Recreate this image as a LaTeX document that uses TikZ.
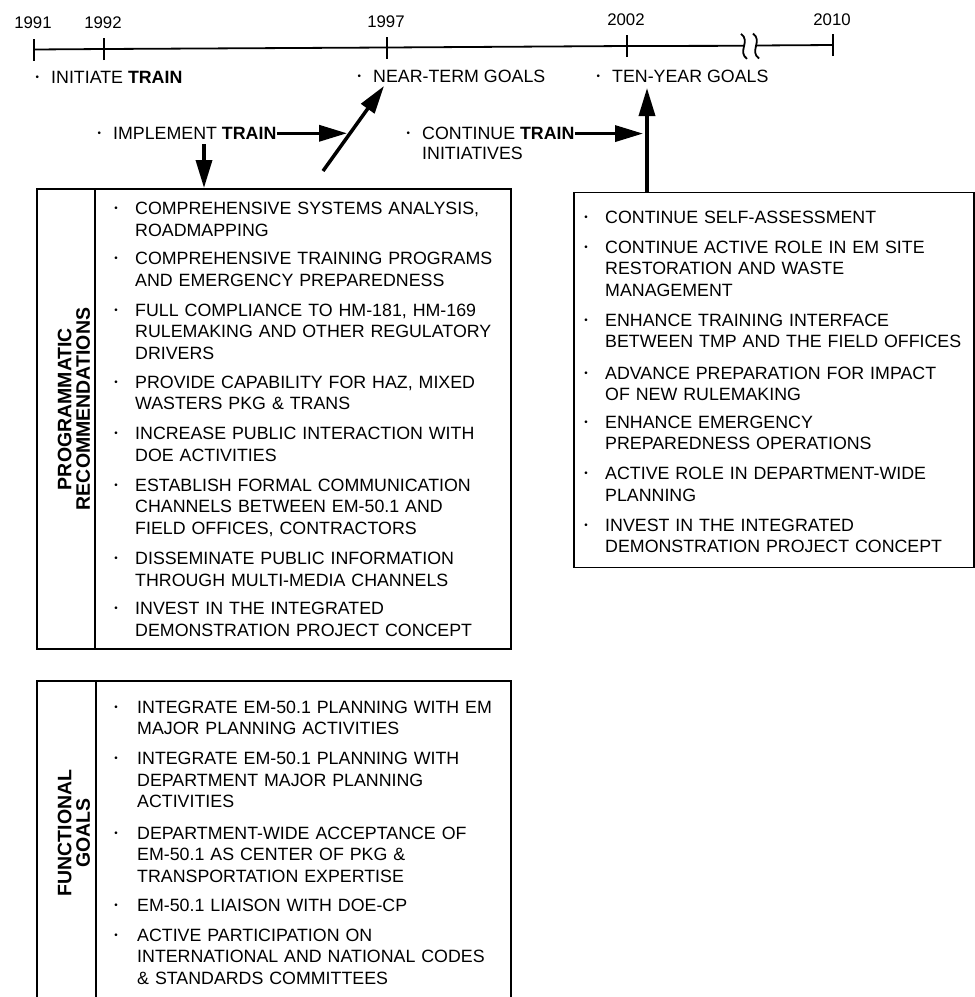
\documentclass[tikz,border=0pt]{standalone}
\usepackage{fontspec}
\setmainfont{Liberation Sans}
\usetikzlibrary{arrows.meta}
\newcommand\dotb{\raisebox{0.32ex}{\scalebox{0.55}{\textbullet}}}
\newcommand\bl{\makebox[14pt][l]{\hspace{-1.5pt}\dotb}}
\begin{document}
\begin{tikzpicture}[x=1pt,y=-1pt,
  font=\fontsize{17.8}{21.5}\selectfont,
  frame/.style={draw, line width=1.6pt, inner sep=0},
  item/.style={anchor=base west, inner sep=0, align=left, text width=#1},
  item/.default=380pt,
  bul/.style={anchor=base, inner sep=0},
  lab/.style={anchor=base west, inner sep=0},
  yr/.style={anchor=base, inner sep=0, font=\fontsize{16.8}{18}\selectfont},
  side/.style={rotate=90, align=center, inner sep=0, font=\fontsize{19.5}{18.5}\selectfont\bfseries},
  bigarrow/.style={line width=3.5pt, -{Triangle[length=28pt,width=16pt]}},
  tl/.style={line width=1.8pt},
]
\useasboundingbox (0,0) rectangle (975,997);

% ---------- timeline ----------
\coordinate (t91) at (34,49.5);
\coordinate (t92) at (104,49);
\coordinate (t97) at (387,47.5);
\coordinate (t02) at (627,46);
\coordinate (b1) at (744,45.8);
\coordinate (b2) at (756,45.5);
\coordinate (t10) at (833,45);
\draw[tl] (t91) -- (t92) -- (t97) -- (t02) -- (b1);
\draw[tl] (b2) -- (t10);
\foreach \t in {t91,t92,t97,t02,t10}
  \draw[tl] ([yshift=-11pt]\t) -- ([yshift=11pt]\t);
\draw[tl] ([shift={(3pt,-13pt)}]b1) .. controls ([shift={(-7pt,-6pt)}]b1) and ([shift={(7pt,5pt)}]b1) .. ([shift={(-3pt,12pt)}]b1);
\draw[tl] ([shift={(3pt,-13pt)}]b2) .. controls ([shift={(-7pt,-6pt)}]b2) and ([shift={(7pt,5pt)}]b2) .. ([shift={(-3pt,12pt)}]b2);

\node[yr] (y91) at (33,28) {1991};
\node[yr] (y92) at (103,28) {1992};
\node[yr] (y97) at (386,27) {1997};
\node[yr] (y02) at (626,25.5) {2002};
\node[yr] (y10) at (832,25.5) {2010};

% ---------- milestone labels ----------
\node[lab] (init) at (37,83.4) {\bl INITIATE \textbf{TRAIN}};
\node[lab] (near) at (359,82.4) {\bl NEAR-TERM GOALS};
\node[lab] (ten) at (598,82.4) {\bl TEN-YEAR GOALS};
\node[lab] (impl) at (99,139.4) {\bl IMPLEMENT \textbf{TRAIN}};
\node[lab] (cont) at (408,139.7) {\bl CONTINUE \textbf{TRAIN}};
\node[lab] (cont2) at (422,159.7) {INITIATIVES};

% ---------- boxes ----------
\node[frame, anchor=north west, minimum width=474pt, minimum height=460pt] (pbox) at (36,188) {};
\draw[frame] (95,188) -- (95,648);
\node[frame, anchor=north west, minimum width=400pt, minimum height=375pt] (rbox) at (573,191.7) {};
\draw[frame] (37,1002) -- (37,681) -- (511,681) -- (511,1002);
\draw[frame] (96,681) -- (96,1002);

\node[side] (plab) at (74,409) {PROGRAMMATIC\\RECOMMENDATIONS};
\node[side] (flab) at (74,833) {FUNCTIONAL\\GOALS};

% ---------- arrows ----------
\coordinate (i1) at (347,133);
\draw[bigarrow] (impl.east) -- (impl.east -| i1);
\coordinate (d0) at (323,171);
\coordinate (d1) at (384,86);
\draw[bigarrow] (d0) -- (d1);
\coordinate (a0) at (204,144);
\draw[bigarrow] (a0) -- (pbox.north -| a0);
\coordinate (c1) at (643,133);
\draw[bigarrow] (cont.east) -- (cont.east -| c1);
\coordinate (v1) at (647,88);
\draw[bigarrow] (rbox.north -| v1) -- (v1);

% ---------- programmatic items ----------
\foreach \y/\n in {214.7/1,264.7/2,316.4/3,388.1/4,439.7/5,491.4/6,564.7/7,614.7/8}
  \node[bul] (pb\n) at (116,\y) {\dotb};
\node[item] (p1) at (135,214.7) {COMPREHENSIVE SYSTEMS ANALYSIS,\\ROADMAPPING};
\node[item] (p2) at (135,264.7) {COMPREHENSIVE TRAINING PROGRAMS\\AND EMERGENCY PREPAREDNESS};
\node[item] (p3) at (135,316.4) {FULL COMPLIANCE TO HM-181, HM-169\\RULEMAKING AND OTHER REGULATORY\\DRIVERS};
\node[item] (p4) at (135,388.1) {PROVIDE CAPABILITY FOR HAZ, MIXED\\WASTERS PKG \& TRANS};
\node[item] (p5) at (135,439.7) {INCREASE PUBLIC INTERACTION WITH\\DOE ACTIVITIES};
\node[item] (p6) at (135,491.4) {ESTABLISH FORMAL COMMUNICATION\\CHANNELS BETWEEN EM-50.1 AND\\FIELD OFFICES, CONTRACTORS};
\node[item] (p7) at (135,564.7) {DISSEMINATE PUBLIC INFORMATION\\THROUGH MULTI-MEDIA CHANNELS};
\node[item] (p8) at (135,614.7) {INVEST IN THE INTEGRATED\\DEMONSTRATION PROJECT CONCEPT};

% ---------- ten-year items ----------
\foreach \y/\n in {223.1/1,253.1/2,326.4/3,379.1/4,428.1/5,479.7/6,531.4/7}
  \node[bul] (rb\n) at (586,\y) {\dotb};
\node[item=365pt] (r1) at (605,223.1) {CONTINUE SELF-ASSESSMENT};
\node[item=365pt] (r2) at (605,253.1) {CONTINUE ACTIVE ROLE IN EM SITE\\RESTORATION AND WASTE\\MANAGEMENT};
\node[item=365pt] (r3) at (605,326.4) {ENHANCE TRAINING INTERFACE\\BETWEEN TMP AND THE FIELD OFFICES};
\node[item=365pt] (r4) at (605,379.1) {ADVANCE PREPARATION FOR IMPACT\\OF NEW RULEMAKING};
\node[item=365pt] (r5) at (605,428.1) {ENHANCE EMERGENCY\\PREPAREDNESS OPERATIONS};
\node[item=365pt] (r6) at (605,479.7) {ACTIVE ROLE IN DEPARTMENT-WIDE\\PLANNING};
\node[item=365pt] (r7) at (605,531.4) {INVEST IN THE INTEGRATED\\DEMONSTRATION PROJECT CONCEPT};

% ---------- functional items ----------
\foreach \y/\n in {713.1/1,764.7/2,839.1/3,911.4/4,941.4/5}
  \node[bul] (fb\n) at (116,\y) {\dotb};
\node[item] (f1) at (137,713.1) {INTEGRATE EM-50.1 PLANNING WITH EM\\MAJOR PLANNING ACTIVITIES};
\node[item] (f2) at (137,764.7) {INTEGRATE EM-50.1 PLANNING WITH\\DEPARTMENT MAJOR PLANNING\\ACTIVITIES};
\node[item] (f3) at (137,839.1) {DEPARTMENT-WIDE ACCEPTANCE OF\\EM-50.1 AS CENTER OF PKG \&\\TRANSPORTATION EXPERTISE};
\node[item] (f4) at (137,911.4) {EM-50.1 LIAISON WITH DOE-CP};
\node[item] (f5) at (137,941.4) {ACTIVE PARTICIPATION ON\\INTERNATIONAL AND NATIONAL CODES\\\& STANDARDS COMMITTEES};
\end{tikzpicture}
\end{document}
